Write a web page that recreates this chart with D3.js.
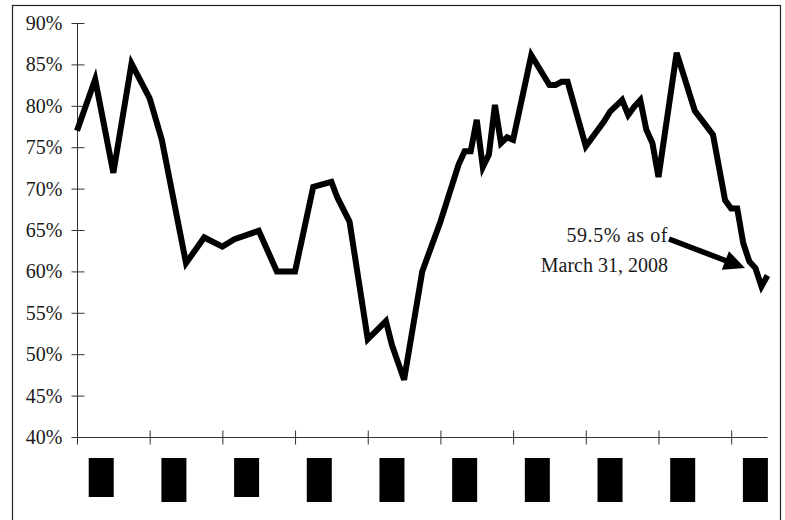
<!DOCTYPE html>
<html>
<head>
<meta charset="utf-8">
<script src="https://cdn.jsdelivr.net/npm/d3@7"></script>
<style>
  body { margin: 0; background: #fff; }
  svg { display: block; }
  text { font-family: "Liberation Serif", "Times New Roman", serif; fill: #1a1a1a; }
</style>
</head>
<body>
<div id="chart"></div>
<script>
// months since the start of the series (last point = March 31, 2008)
const months = [0, 3, 6, 9, 12, 14, 18, 21, 24, 26, 30, 33, 36, 39, 42, 43, 45, 48, 51, 52, 54,
  57, 60, 63, 64, 65, 66, 67, 68, 69, 70, 71, 72, 75, 78, 79, 80, 81, 84, 87, 88, 90, 91, 92, 93,
  94, 95, 96, 99, 102, 105, 107, 108, 109, 110, 111, 112, 113, 114];
const values = [77, 83.2, 71.9, 85.1, 80.9, 75.9, 61, 64.1, 63, 63.9, 64.9, 60, 60, 70.2, 70.8, 68.9, 66, 51.8, 54, 51.1, 46.9,
  60, 66, 72.9, 74.5, 74.5, 78.3, 72.6, 74.1, 80.1, 75.5, 76.2, 75.9, 86.1, 82.5, 82.5, 82.9, 82.9, 75.1, 78.1, 79.3, 80.7, 78.9, 79.9, 80.7,
  77.1, 75.5, 71.4, 86.4, 79.4, 76.5, 68.6, 67.6, 67.6, 63.4, 61.2, 60.4, 58.2, 59.5];
const yTicks = [40, 45, 50, 55, 60, 65, 70, 75, 80, 85, 90];
const yearTicks = [0, 12, 24, 36, 48, 60, 72, 84, 96, 108];
// year labels are blacked out in the source
const yearLabels = ["1999", "2000", "2001", "2002", "2003", "2004", "2005", "2006", "2007", "2008"];
const shortLabels = [0, 2];
const noteLines = ["59.5% as of", "March 31, 2008"];

const W = 785, H = 520;
const svg = d3.select("#chart").append("svg").attr("width", W).attr("height", H);

svg.append("rect")
  .attr("x", 12.5).attr("y", 5.5).attr("width", 768).attr("height", 530)
  .attr("fill", "none").attr("stroke", "#222").attr("stroke-width", 1.2);

const x = d3.scaleLinear().domain([0, 114]).range([77, 767.5]);
const y = d3.scaleLinear().domain([40, 90]).range([437, 23]);

// y axis
const yAxis = svg.append("g").attr("transform", "translate(77.5,0)")
  .call(d3.axisLeft(y).tickValues(yTicks).tickSize(6).tickPadding(8).tickFormat(d => d + "%"));
yAxis.select(".domain").attr("stroke", "#333").attr("d", `M0,${y(90)}V${y(40)}`);
yAxis.selectAll(".tick line").attr("stroke", "#333").attr("x1", 7).attr("x2", -6);
yAxis.selectAll(".tick text").attr("font-size", 20).attr("fill", "#1a1a1a")
  .attr("font-family", "Liberation Serif, serif").attr("x", -15);

// x axis
const xAxis = svg.append("g").attr("transform", `translate(0,${y(40) + 0.5})`)
  .call(d3.axisBottom(x).tickValues(yearTicks).tickSize(7).tickFormat(""));
xAxis.select(".domain").attr("stroke", "#333").attr("d", `M${x(0)},0H${x(114)}`);
xAxis.selectAll(".tick line").attr("stroke", "#333").attr("y1", -7).attr("y2", 7);

// redacted year labels
svg.selectAll("rect.redact").data(yearLabels).enter().append("rect")
  .attr("class", "redact")
  .attr("x", (d, i) => x(yearTicks[i] + 4) - 12.5)
  .attr("y", 458)
  .attr("width", 25)
  .attr("height", (d, i) => shortLabels.includes(i) ? 39 : 44)
  .attr("fill", "#000");

// series line
const line = d3.line().x((d, i) => x(months[i])).y(d => y(d));
svg.append("path")
  .datum(values)
  .attr("d", line)
  .attr("fill", "none")
  .attr("stroke", "#000")
  .attr("stroke-width", 6)
  .attr("stroke-linejoin", "miter")
  .attr("stroke-miterlimit", 4);

// annotation
svg.selectAll("text.note").data(noteLines).enter().append("text")
  .attr("class", "note")
  .attr("x", 668)
  .attr("y", (d, i) => 242 + i * 30)
  .attr("text-anchor", "end")
  .attr("font-size", 20)
  .attr("letter-spacing", (d, i) => i === 0 ? 0.6 : 0)
  .text(d => d);

// arrow pointing at the last value
const tail = [669, 239], tip = [745, 268];
const ang = Math.atan2(tip[1] - tail[1], tip[0] - tail[0]);
const headLen = 21, headHalf = 10;
const base = [tip[0] - headLen * Math.cos(ang), tip[1] - headLen * Math.sin(ang)];
svg.append("line")
  .attr("x1", tail[0]).attr("y1", tail[1])
  .attr("x2", base[0] + 2 * Math.cos(ang)).attr("y2", base[1] + 2 * Math.sin(ang))
  .attr("stroke", "#000").attr("stroke-width", 5.5);
svg.append("path")
  .attr("d", d3.line()([
    tip,
    [base[0] + headHalf * Math.sin(ang), base[1] - headHalf * Math.cos(ang)],
    [base[0] - headHalf * Math.sin(ang), base[1] + headHalf * Math.cos(ang)]
  ]) + "Z")
  .attr("fill", "#000");
</script>
</body>
</html>
